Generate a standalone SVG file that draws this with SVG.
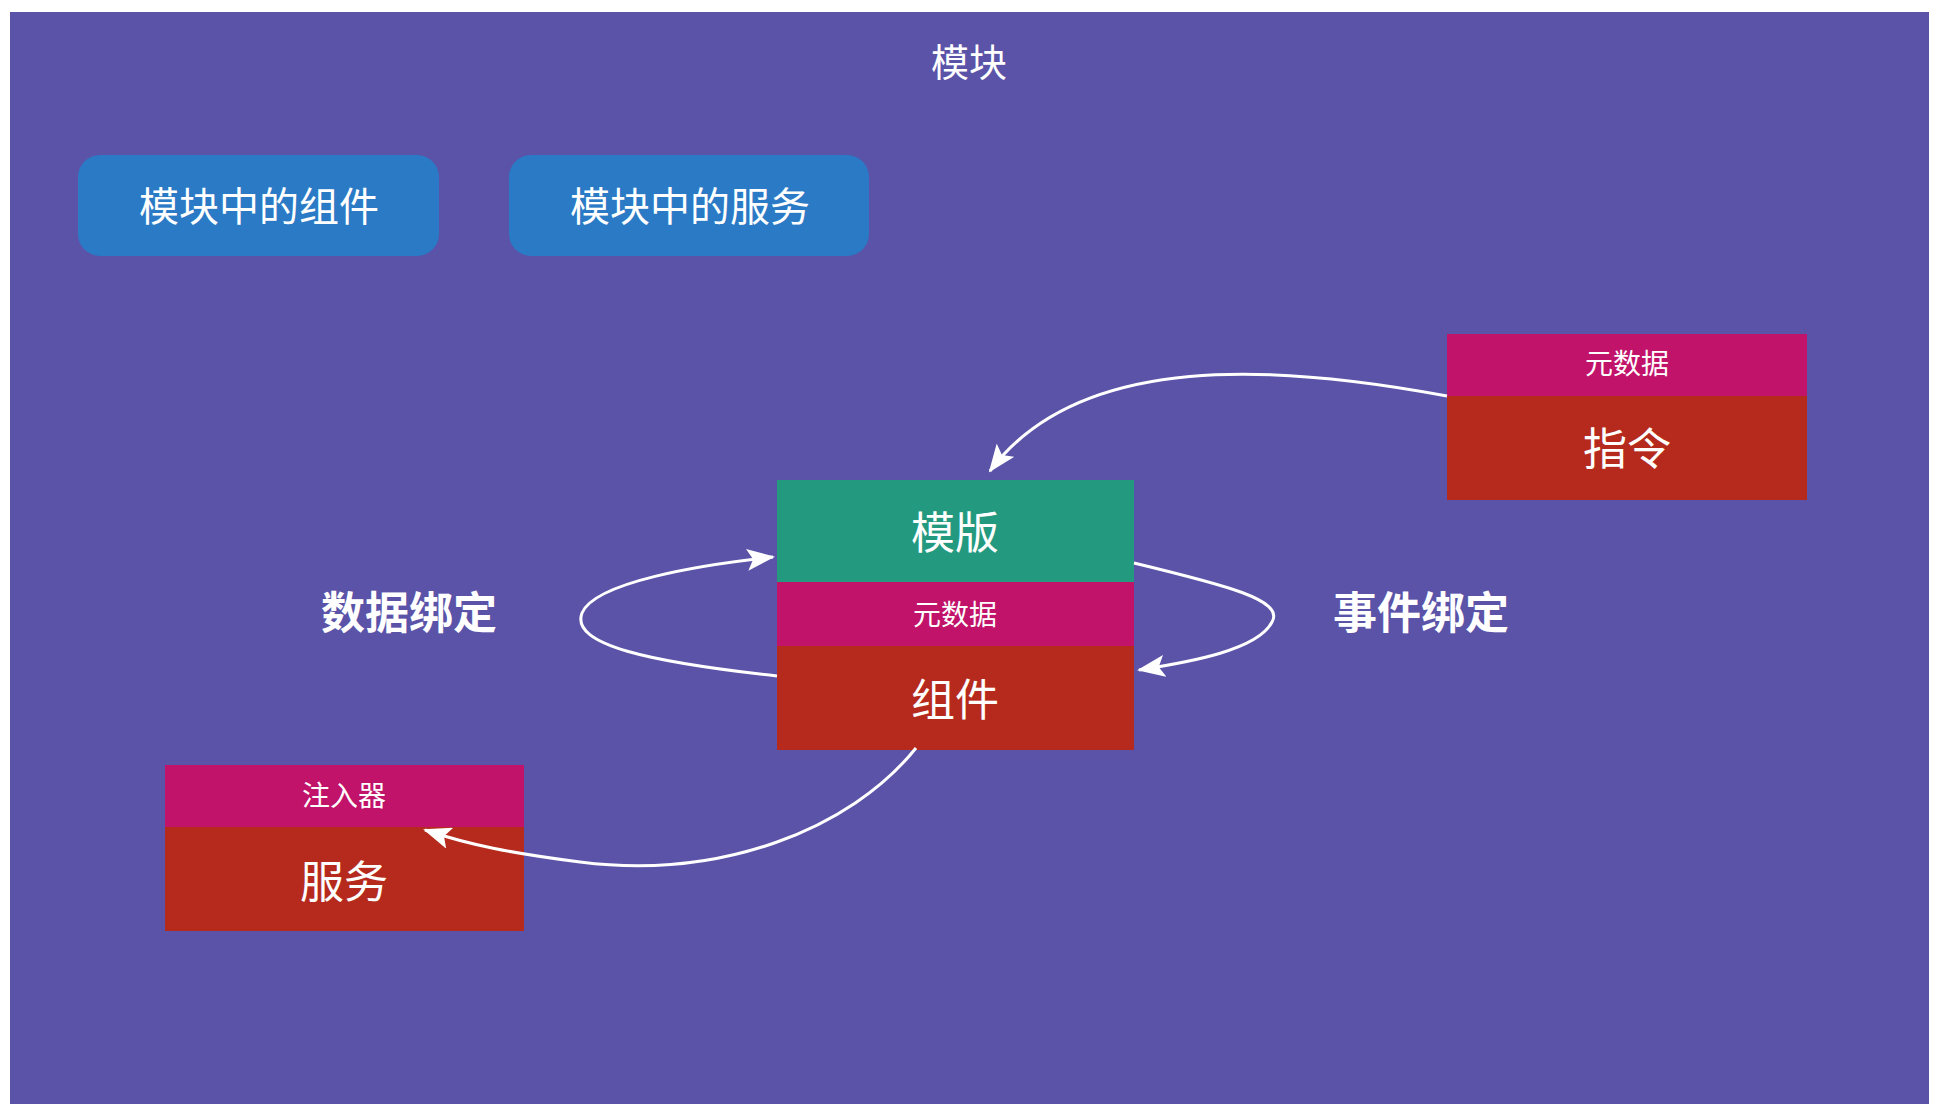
<svg xmlns="http://www.w3.org/2000/svg" width="1941" height="1112" viewBox="0 0 1941 1112">
<style>
text{font-family:"Noto Sans CJK SC","Noto Sans",sans-serif;fill:#fff;text-anchor:middle;dominant-baseline:central}
.btn{fill:#2a7ac6}
.hd{fill:#c1136a}
.bd{fill:#b52a1c}
.c{fill:none;stroke:#fff;stroke-width:3}
</style>
<defs><marker id="a" markerWidth="10" markerHeight="10" refX="8" refY="5" orient="auto" markerUnits="userSpaceOnUse" viewBox="0 0 10 10"><path d="M0,0L10,5L0,10z" fill="#fff" transform="scale(1)"/></marker>
<marker id="b" markerWidth="28" markerHeight="22" refX="26" refY="11" orient="auto" markerUnits="userSpaceOnUse"><path d="M0,0L28,11L0,22L6,11z" fill="#fff"/></marker></defs>
<rect width="1941" height="1112" fill="#fff"/>
<rect x="10" y="12" width="1919" height="1092" fill="#5a53a8"/>
<text x="969" y="59" font-size="38">模块</text>
<g id="btn1"><rect class="btn" x="78" y="155" width="361" height="101" rx="22"/><text x="259" y="204" font-size="40">模块中的组件</text></g>
<g id="btn2"><rect class="btn" x="509" y="155" width="360" height="101" rx="22"/><text x="690" y="204" font-size="40">模块中的服务</text></g>
<g id="directive"><rect class="hd" x="1447" y="334" width="360" height="62"/><rect class="bd" x="1447" y="396" width="360" height="104"/><text x="1627" y="362" font-size="28">元数据</text><text x="1627" y="446" font-size="44">指令</text></g>
<g id="component"><rect fill="#239a80" x="777" y="480" width="357" height="102"/><rect class="hd" x="777" y="582" width="357" height="64"/><rect class="bd" x="777" y="646" width="357" height="104"/><text x="955" y="530" font-size="44">模版</text><text x="955" y="613" font-size="28">元数据</text><text x="955" y="697" font-size="44">组件</text></g>
<g id="service"><rect class="hd" x="165" y="765" width="359" height="62"/><rect class="bd" x="165" y="827" width="359" height="104"/><text x="344" y="794" font-size="28">注入器</text><text x="344" y="879" font-size="44">服务</text></g>
<g id="labels"><text x="409" y="610" font-size="44" font-weight="bold">数据绑定</text><text x="1421" y="610" font-size="44" font-weight="bold">事件绑定</text></g>
<g id="connectors">
<path class="c" marker-end="url(#b)" d="M1447,396 C1280,365 1080,350 990,471"/>
<path class="c" marker-end="url(#b)" d="M777,676 C650,662 570,645 582,613 C595,582 700,565 773,557"/>
<path class="c" marker-end="url(#b)" d="M1134,563 C1225,585 1285,600 1272,622 C1258,650 1190,662 1139,670"/>
<path class="c" marker-end="url(#b)" d="M916,748 C850,830 720,880 580,862 C510,853 470,845 425,830"/>
</g>
</svg>
